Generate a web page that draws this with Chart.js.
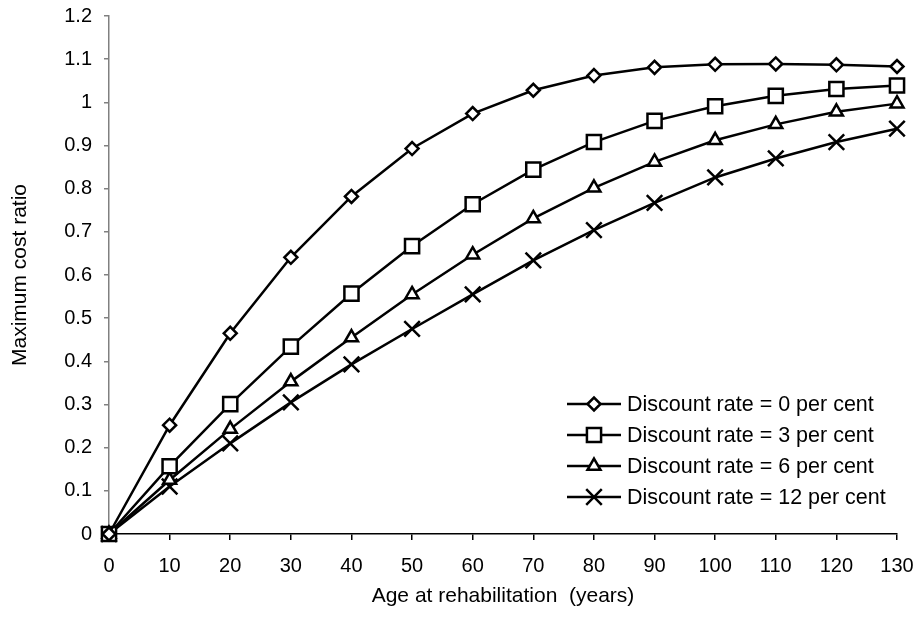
<!DOCTYPE html>
<html>
<head>
<meta charset="utf-8">
<script src="https://cdn.jsdelivr.net/npm/chart.js@4/dist/chart.umd.min.js"></script>
<style>
  html, body { margin: 0; padding: 0; background: #fff; }
  #wrap { width: 915px; height: 618px; }
</style>
</head>
<body>
<div id="wrap"><canvas id="chart"></canvas></div>
<script>
const ages = [0, 10, 20, 30, 40, 50, 60, 70, 80, 90, 100, 110, 120, 130]
const rate0 = [0, 0.252, 0.465, 0.641, 0.782, 0.893, 0.974, 1.028, 1.062, 1.081, 1.088, 1.089, 1.087, 1.083]
const rate3 = [0, 0.157, 0.301, 0.434, 0.557, 0.667, 0.764, 0.844, 0.908, 0.957, 0.991, 1.015, 1.031, 1.039]
const rate6 = [0, 0.125, 0.243, 0.353, 0.455, 0.555, 0.647, 0.731, 0.802, 0.862, 0.912, 0.949, 0.978, 0.997]
const rate12 = [0, 0.11, 0.21, 0.305, 0.393, 0.475, 0.555, 0.634, 0.704, 0.767, 0.826, 0.87, 0.908, 0.939]
const seriesLabels = [
  'Discount rate = 0 per cent',
  'Discount rate = 3 per cent',
  'Discount rate = 6 per cent',
  'Discount rate = 12 per cent'
]
const yTickLabels = ['0', '0.1', '0.2', '0.3', '0.4', '0.5', '0.6', '0.7', '0.8', '0.9', '1', '1.1', '1.2']
const xTickLabels = ['0', '10', '20', '30', '40', '50', '60', '70', '80', '90', '100', '110', '120', '130']

const FONT = '"Liberation Sans", Arial, sans-serif'

function points (values) {
  return ages.map((a, i) => ({ x: a, y: values[i] }))
}

function series (label, values, style, radius) {
  return {
    label: label,
    data: points(values),
    borderColor: '#000',
    backgroundColor: '#fff',
    borderWidth: 2.5,
    tension: 0,
    pointStyle: style,
    pointRadius: radius,
    pointBorderWidth: 2.5,
    pointBackgroundColor: '#fff',
    pointBorderColor: '#000',
    clip: false
  }
}

// legend drawn as line + marker, like the original
const lineLegend = {
  id: 'lineLegend',
  afterDraw (chart) {
    const ctx = chart.ctx
    const area = chart.chartArea
    const x0 = area.left + 458
    const x1 = x0 + 54
    const y0 = area.top + 388
    const gap = 31
    ctx.save()
    chart.data.datasets.forEach((ds, i) => {
      const y = y0 + i * gap
      ctx.strokeStyle = '#000'
      ctx.lineWidth = 2.5
      ctx.beginPath()
      ctx.moveTo(x0, y)
      ctx.lineTo(x1, y)
      ctx.stroke()
      ctx.fillStyle = '#fff'
      Chart.helpers.drawPoint(ctx, {
        pointStyle: ds.pointStyle,
        radius: ds.pointRadius,
        rotation: 0,
        borderWidth: 2.5
      }, (x0 + x1) / 2, y)
      ctx.fillStyle = '#000'
      ctx.font = '21.5px ' + FONT
      ctx.textBaseline = 'middle'
      ctx.textAlign = 'left'
      ctx.fillText(ds.label, x1 + 6, y + 1)
    })
    ctx.restore()
  }
}

const chart = new Chart(document.getElementById('chart').getContext('2d'), {
  type: 'line',
  data: {
    datasets: [
      series(seriesLabels[0], rate0, 'rectRot', 6.5),
      series(seriesLabels[1], rate3, 'rect', 10),
      series(seriesLabels[2], rate6, 'triangle', 7.5),
      series(seriesLabels[3], rate12, 'crossRot', 11)
    ]
  },
  options: {
    responsive: true,
    maintainAspectRatio: false,
    animation: false,
    layout: { padding: { left: 0, top: 16, right: 18, bottom: 0 } },
    scales: {
      x: {
        type: 'linear',
        min: 0,
        max: 130,
        afterFit: (scale) => {
          scale.height = 84
          scale.paddingLeft = 0
          scale.paddingRight = 0
        },
        grid: { display: true, drawOnChartArea: false, drawTicks: true, tickLength: 6, color: '#000', lineWidth: 1.5 },
        border: { display: true, color: '#000', width: 1.5 },
        ticks: {
          stepSize: 10,
          padding: 14,
          color: '#000',
          maxRotation: 0,
          font: { family: FONT, size: 20 },
          callback: (v, i) => xTickLabels[i]
        },
        title: {
          display: true,
          text: 'Age at rehabilitation  (years)',
          color: '#000',
          font: { family: FONT, size: 21 },
          padding: { top: 4, bottom: 9 }
        }
      },
      y: {
        min: 0,
        max: 1.2,
        afterFit: (scale) => {
          scale.width = 109
          scale.paddingTop = 0
          scale.paddingBottom = 0
        },
        grid: { display: true, drawOnChartArea: false, drawTicks: true, tickLength: 5, color: '#808080', lineWidth: 1.5 },
        border: { display: true, color: '#808080', width: 1.5 },
        ticks: {
          stepSize: 0.1,
          padding: 12,
          color: '#000',
          font: { family: FONT, size: 20 },
          callback: (v, i) => yTickLabels[i]
        },
        title: {
          display: true,
          text: 'Maximum cost ratio',
          color: '#000',
          font: { family: FONT, size: 21 },
          padding: { top: 8, bottom: 8 }
        }
      }
    },
    plugins: {
      legend: { display: false },
      tooltip: { enabled: false }
    }
  },
  plugins: [lineLegend]
})
</script>
</body>
</html>
